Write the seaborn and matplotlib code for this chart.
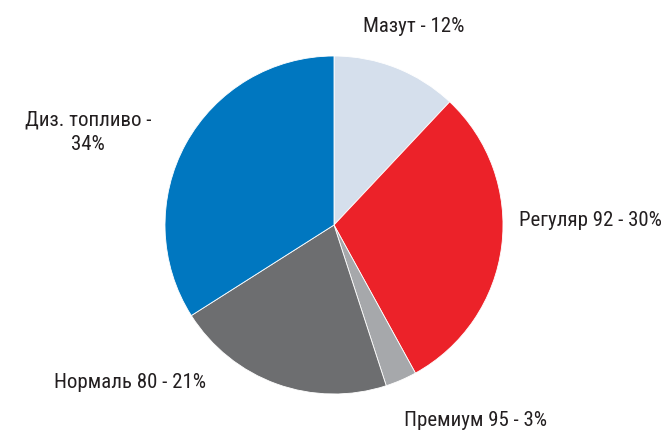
"""Pie chart of fuel product mix."""

import matplotlib
matplotlib.use("Agg")
import matplotlib.pyplot as plt
import seaborn as sns

products = ["Мазут", "Регуляр 92", "Премиум 95", "Нормаль 80", "Диз. топливо"]
shares = [12, 30, 3, 21, 34]
colors = ["#d5dfec", "#ec2229", "#a6a8ab", "#6d6e70", "#0077c0"]

sns.set_theme(style="white")
plt.rcParams["font.family"] = ["Roboto Condensed", "DejaVu Sans"]

W, H = 666, 432
fig = plt.figure(figsize=(W / 100, H / 100), dpi=100)
fig.patch.set_facecolor("white")

# pie box in pixels: left 165, top 56, size 338
ax = fig.add_axes([165 / W, 1 - (56 + 338) / H, 338 / W, 338 / H])
ax.pie(shares, colors=colors, startangle=90, counterclock=False,
       wedgeprops=dict(edgecolor="white", linewidth=0.6))
ax.set_xlim(-1, 1)
ax.set_ylim(-1, 1)
ax.set_aspect("equal")
ax.axis("off")

labels = [f"{p} - {s}%" for p, s in zip(products, shares)]
labels[4] = f"{products[4]} -\n{shares[4]}%"

# label anchors in pixels (x, y, ha)
spots = [(414, 27, "center"), (519, 220, "left"), (404, 421, "left"),
         (54, 383, "left"), (88, 132, "center")]
for text, (x, y, ha) in zip(labels, spots):
    fig.text(x / W, 1 - y / H, text, ha=ha, va="center", fontsize=15,
             color="#231f20", linespacing=1.35)

fig.savefig("out.png", dpi=100)
